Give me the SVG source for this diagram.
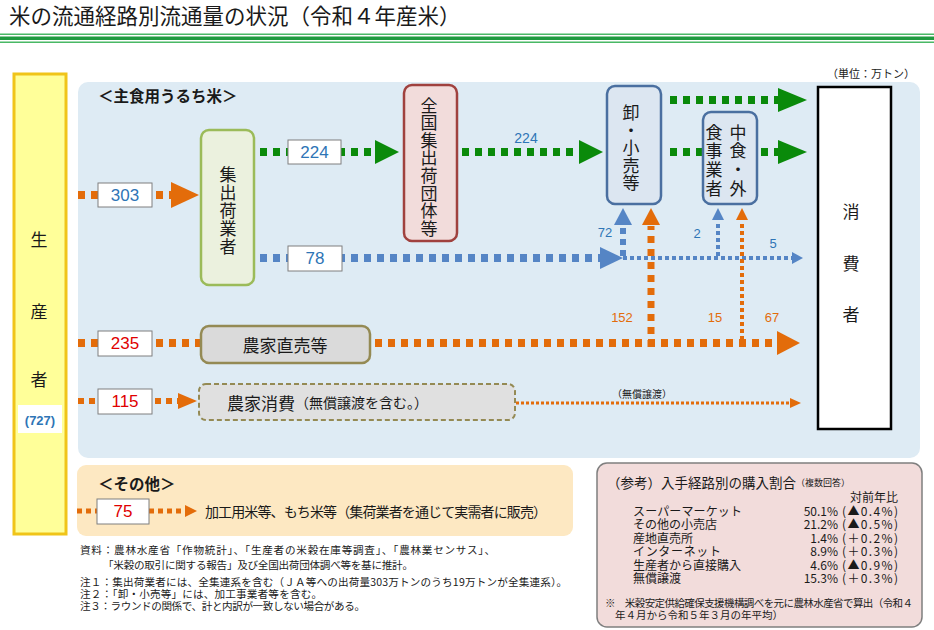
<svg xmlns="http://www.w3.org/2000/svg" width="934" height="630" viewBox="0 0 934 630">
<style>
text{font-family:"Noto Sans CJK JP","Noto Sans",sans-serif;fill:#1a1a1a}
.c{dominant-baseline:central}
.m{text-anchor:middle;dominant-baseline:central}
.v{font-size:17px;text-anchor:middle;writing-mode:vertical-rl}
.num{font-family:"Liberation Sans",Arial,sans-serif;font-size:17px;text-anchor:middle;dominant-baseline:central}
.b{fill:#2e75b6}
.r{fill:#e00000}
.o{fill:#e36c0a}
.lbl{font-family:"Liberation Sans",Arial,sans-serif;font-size:13px;text-anchor:middle;dominant-baseline:central}
.nbox{fill:#fff;stroke:#7f7f7f;stroke-width:1}
.note{font-size:10.6px}
.ref{font-size:12px;dominant-baseline:central}
.gd{stroke:#0a8a0a;stroke-width:8;stroke-dasharray:7 6;fill:none}
.bd{stroke:#5585c5;stroke-width:8;stroke-dasharray:7 6;fill:none}
.od{stroke:#e36c0a;stroke-width:8;stroke-dasharray:7 6;fill:none}
.gh{fill:#0a8a0a}
.bh{fill:#5585c5}
.oh{fill:#e36c0a}
</style>

<!-- title -->
<text x="9" y="24" style="font-size:21.5px">米の流通経路別流通量の状況（令和４年産米）</text>
<rect x="0" y="33.5" width="934" height="1.5" fill="#49b865"/>
<rect x="0" y="36.5" width="934" height="3.5" fill="#1f9a3f"/>
<rect x="0" y="41.5" width="934" height="1.5" fill="#49b865"/>

<!-- panels -->
<rect x="78" y="82" width="842" height="376" rx="10" fill="#deebf4"/>
<rect x="77" y="465" width="496" height="71" rx="9" fill="#fde8c2"/>
<text x="98" y="95" class="c" style="font-size:15.5px;font-weight:bold">＜主食用うるち米＞</text>
<text x="98" y="483" class="c" style="font-size:15.5px;font-weight:bold">＜その他＞</text>
<text x="915" y="73" class="c" style="font-size:11px;text-anchor:end">（単位：万トン）</text>

<!-- connectors -->
<g id="connectors">
  <line x1="78" y1="195" x2="172" y2="195" class="od"/>
  <polygon points="171,182 199,195 171,208" class="oh"/>
  <line x1="260" y1="152" x2="376" y2="152" class="gd"/>
  <polygon points="375,140 399,152 375,164" class="gh"/>
  <line x1="462" y1="152" x2="580" y2="152" class="gd"/>
  <polygon points="579,140 603,152 579,164" class="gh"/>
  <line x1="670" y1="100" x2="779" y2="100" class="gd"/>
  <polygon points="778,88 807,100 778,112" class="gh"/>
  <line x1="670" y1="152" x2="703" y2="152" class="gd"/>
  <line x1="761" y1="152" x2="779" y2="152" class="gd"/>
  <polygon points="778,140 807,152 778,164" class="gh"/>
  <line x1="260" y1="258" x2="601" y2="258" class="bd"/>
  <polygon points="600,247 623,258 600,269" class="bh"/>
  <line x1="623" y1="258" x2="793" y2="258" stroke="#5585c5" stroke-width="4" stroke-dasharray="4 3"/>
  <polygon points="792,252 803,258 792,264" class="bh"/>
  <line x1="623" y1="256" x2="623" y2="226" stroke="#5585c5" stroke-width="6" stroke-dasharray="6 5"/>
  <polygon points="614,225 623,208 632,225" class="bh"/>
  <line x1="718" y1="256" x2="718" y2="221" stroke="#5585c5" stroke-width="4" stroke-dasharray="4 3"/>
  <polygon points="712,220 718,208 724,220" class="bh"/>
  <line x1="78" y1="343" x2="201" y2="343" class="od"/>
  <line x1="375" y1="343" x2="778" y2="343" class="od"/>
  <polygon points="777,331 800,343 777,355" class="oh"/>
  <line x1="651" y1="347" x2="651" y2="226" stroke="#e36c0a" stroke-width="7" stroke-dasharray="7 6"/>
  <polygon points="642,225 651,208 660,225" class="oh"/>
  <line x1="742" y1="347" x2="742" y2="221" stroke="#e36c0a" stroke-width="4" stroke-dasharray="4 3"/>
  <polygon points="736,220 742,208 748,220" class="oh"/>
  <line x1="78" y1="401" x2="179" y2="401" stroke="#e36c0a" stroke-width="6" stroke-dasharray="6 5"/>
  <polygon points="178,393 197,401 178,409" class="oh"/>
  <line x1="516" y1="403" x2="791" y2="403" stroke="#e36c0a" stroke-width="3" stroke-dasharray="3 2"/>
  <polygon points="790,398 801,403 790,408" class="oh"/>
  <line x1="77" y1="511" x2="186" y2="511" stroke="#e36c0a" stroke-width="5" stroke-dasharray="5 4"/>
  <polygon points="185,505 197,511 185,517" class="oh"/>
</g>

<!-- connector labels -->
<g id="labels">
  <rect x="98" y="183" width="54" height="24" class="nbox"/>
  <text x="125" y="195" class="num b">303</text>
  <rect x="288" y="140" width="53" height="24" class="nbox"/>
  <text x="314.5" y="152" class="num b">224</text>
  <rect x="288" y="246" width="54" height="25" class="nbox"/>
  <text x="315" y="258.5" class="num b">78</text>
  <rect x="98" y="331" width="54" height="25" class="nbox"/>
  <text x="125" y="343.5" class="num r">235</text>
  <rect x="98" y="389" width="54" height="25" class="nbox"/>
  <text x="125" y="401.5" class="num r">115</text>
  <rect x="97" y="499" width="52" height="25" class="nbox"/>
  <text x="123" y="511.5" class="num r">75</text>
  <text x="526" y="138" class="lbl b" style="font-size:14px">224</text>
  <text x="605" y="232" class="lbl b">72</text>
  <text x="697" y="233" class="lbl b">2</text>
  <text x="773" y="243" class="lbl b">5</text>
  <text x="622" y="317" class="lbl o">152</text>
  <text x="715" y="317" class="lbl o">15</text>
  <text x="772" y="317" class="lbl o">67</text>
  <text x="642" y="393" class="m" style="font-size:10px">（無償譲渡）</text>
  <text x="205" y="511" class="c" style="font-size:14px" textLength="342">加工用米等、もち米等（集荷業者を通じて実需者に販売）</text>
</g>

<!-- nodes -->
<g id="producer">
  <rect x="14" y="74" width="52" height="460" fill="#ffff99" stroke="#f0c419" stroke-width="3"/>
  <text x="39" y="238" class="m" style="font-size:17px">生</text>
  <text x="39" y="310" class="m" style="font-size:17px">産</text>
  <text x="39" y="378" class="m" style="font-size:17px">者</text>
  <rect x="18" y="405" width="44" height="28" fill="#fff"/>
  <text x="40" y="420" class="m" style="font-family:'Liberation Sans',Arial,sans-serif;font-size:13px;font-weight:bold;fill:#2e75b6">(727)</text>
</g>

<g id="shukka">
  <rect x="201" y="130" width="53" height="155" rx="8" fill="#ebf1de" stroke="#9bbb59" stroke-width="2.5"/>
  <text x="228" y="211" class="v" style="letter-spacing:0.8px">集出荷業者</text>
</g>

<g id="zenkoku">
  <rect x="404" y="85" width="53" height="156" rx="8" fill="#f2dcdb" stroke="#a0413e" stroke-width="2.5"/>
  <text x="429" y="167" class="v" style="letter-spacing:0.6px">全国集出荷団体等</text>
</g>

<g id="oroshi">
  <rect x="607" y="86" width="54" height="118" rx="8" fill="#dce6f1" stroke="#4a6fa0" stroke-width="2.5"/>
  <text x="631" y="148" class="v" style="letter-spacing:0.5px">卸・小売等</text>
</g>

<g id="nakashoku">
  <rect x="703" y="112" width="54" height="92" rx="8" fill="#dce6f1" stroke="#4a6fa0" stroke-width="2.5"/>
  <text x="738" y="161" class="v" style="letter-spacing:1.7px">中食・外</text>
  <text x="714" y="161" class="v" style="letter-spacing:1.7px">食事業者</text>
</g>

<g id="consumer">
  <rect x="818" y="87" width="73" height="342" fill="#fff" stroke="#000" stroke-width="2.5"/>
  <text x="851" y="210" class="m" style="font-size:17px">消</text>
  <text x="851" y="262" class="m" style="font-size:17px">費</text>
  <text x="851" y="313" class="m" style="font-size:17px">者</text>
</g>

<g id="chokubai">
  <rect x="201" y="326" width="169" height="37" rx="8" fill="#dadada" stroke="#948a54" stroke-width="2.5"/>
  <text x="285" y="344" class="m" style="font-size:17px">農家直売等</text>
</g>

<g id="shohi">
  <rect x="199" y="384" width="316" height="36" rx="7" fill="#e0e0e0" stroke="#948a54" stroke-width="2" stroke-dasharray="5 3"/>
  <text x="227" y="402" class="c" style="font-size:17px">農家消費<tspan style="font-size:14px">（無償譲渡を含む。）</tspan></text>
</g>

<!-- notes -->
<g id="notes">
  <text class="note"><tspan x="80" y="554" textLength="415">資料：農林水産省「作物統計」、「生産者の米穀在庫等調査」、「農林業センサス」、</tspan><tspan x="103" y="569" textLength="310">「米穀の取引に関する報告」及び全国出荷団体調べ等を基に推計。</tspan><tspan x="80" y="586" textLength="487">注１：集出荷業者には、全集連系を含む（ＪＡ等への出荷量303万トンのうち19万トンが全集連系）。</tspan><tspan x="80" y="598" textLength="242">注２：「卸・小売等」には、加工事業者等を含む。</tspan><tspan x="80" y="610" textLength="285">注３：ラウンドの関係で、計と内訳が一致しない場合がある。</tspan></text>
</g>

<!-- reference box -->
<g id="reference">
  <rect x="597" y="463" width="325" height="164" rx="10" fill="#f2dcdb" stroke="#7f7f7f" stroke-width="1.5"/>
  <text x="607" y="482" class="c" style="font-size:13.5px">（参考）入手経路別の購入割合<tspan style="font-size:9px">（複数回答）</tspan></text>
  <text class="ref"><tspan x="633" y="510" textLength="109">スーパーマーケット</tspan><tspan x="633" y="523.4">その他の小売店</tspan><tspan x="633" y="536.8">産地直売所</tspan><tspan x="633" y="550.2" textLength="88">インターネット</tspan><tspan x="633" y="563.6">生産者から直接購入</tspan><tspan x="633" y="577">無償譲渡</tspan></text>
  <text class="ref" style="text-anchor:end"><tspan x="838" y="510">50.1%</tspan><tspan x="838" y="523.4">21.2%</tspan><tspan x="838" y="536.8">1.4%</tspan><tspan x="838" y="550.2">8.9%</tspan><tspan x="838" y="563.6">4.6%</tspan><tspan x="838" y="577">15.3%</tspan></text>
  <text class="ref"><tspan x="850" y="496" textLength="48">対前年比</tspan><tspan x="842" y="510" textLength="56">(▲0.4%)</tspan><tspan x="842" y="523.4" textLength="56">(▲0.5%)</tspan><tspan x="842" y="536.8" textLength="56">(＋0.2%)</tspan><tspan x="842" y="550.2" textLength="56">(＋0.3%)</tspan><tspan x="842" y="563.6" textLength="56">(▲0.9%)</tspan><tspan x="842" y="577" textLength="56">(＋0.3%)</tspan></text>
  <text class="c" style="font-size:10.5px"><tspan x="605" y="602" textLength="308">※　米穀安定供給確保支援機構調べを元に農林水産省で算出（令和４</tspan><tspan x="615" y="614">年４月から令和５年３月の年平均）</tspan></text>
</g>
</svg>
